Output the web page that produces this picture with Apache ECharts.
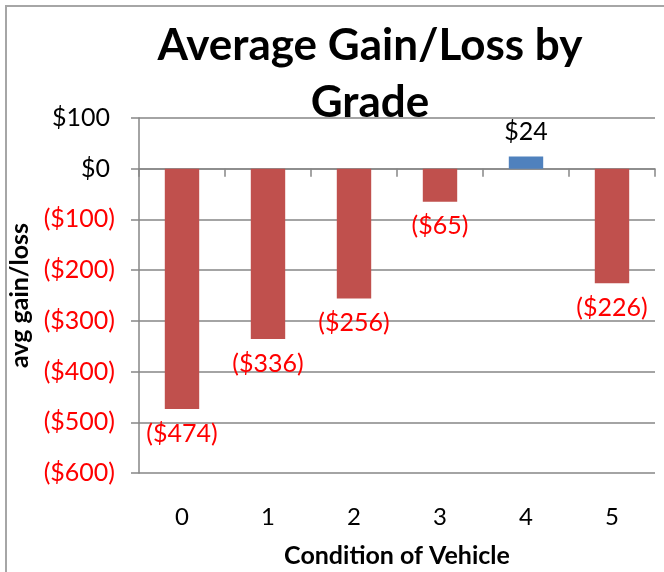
<!DOCTYPE html>
<html>
<head>
<meta charset="utf-8">
<script src="https://cdn.jsdelivr.net/npm/echarts@6/dist/echarts.min.js"></script>
<style>
  html, body { margin: 0; padding: 0; background: #fff; }
  #chart { width: 664px; height: 572px; }
</style>
</head>
<body>
<div id="chart"></div>
<script>
  // data
  var grades = ['0', '1', '2', '3', '4', '5'];
  var avgGainLoss = [-474, -336, -256, -65, 24, -226];
  var yTicks = { min: -600, max: 100, step: 100 };

  var RED_BAR = '#C0504D';
  var BLUE_BAR = '#4F81BD';
  var FONT = 'Lato';

  function money(v) {
    return v < 0 ? '($' + Math.abs(v) + ')' : '$' + v;
  }

  var barData = avgGainLoss.map(function (v) {
    var neg = v < 0;
    return {
      value: v,
      itemStyle: { color: neg ? RED_BAR : BLUE_BAR },
      label: {
        position: neg ? 'bottom' : 'top',
        color: neg ? '#FF0000' : '#000000'
      }
    };
  });

  var chart = echarts.init(document.getElementById('chart'));

  var option = {
    backgroundColor: '#ffffff',
    animation: false,
    textStyle: { fontFamily: FONT },
    graphic: [
      {
        type: 'rect',
        shape: { x: 6, y: 6, width: 720, height: 620 },
        style: { fill: 'none', stroke: '#a6a6a6', lineWidth: 2 },
        silent: true
      },
      {
        type: 'text',
        x: 370,
        y: 17,
        style: {
          text: 'Average Gain/Loss by\nGrade',
          font: 'bold 44px Lato',
          lineHeight: 57,
          textAlign: 'center',
          fill: '#000'
        }
      }
    ],
    grid: { left: 139, right: 9, top: 118, bottom: 99, outerBoundsMode: 'none' },
    xAxis: [
      {
        type: 'category',
        data: grades,
        position: 'bottom',
        axisLine: { show: false, onZero: false },
        axisTick: { show: false },
        axisLabel: { margin: 32, fontSize: 24, color: '#000', fontFamily: FONT },
        name: 'Condition of Vehicle',
        nameLocation: 'middle',
        nameGap: 70,
        nameTextStyle: { fontSize: 25, fontWeight: 'bold', color: '#000', fontFamily: FONT }
      },
      {
        type: 'category',
        data: grades,
        position: 'bottom',
        axisLine: { show: true, onZero: true, lineStyle: { color: '#868686', width: 1.5 } },
        axisTick: { show: true, length: 8, lineStyle: { color: '#868686', width: 1.5 } },
        axisLabel: { show: false }
      }
    ],
    yAxis: {
      type: 'value',
      min: yTicks.min,
      max: yTicks.max,
      interval: yTicks.step,
      axisLine: { show: true, lineStyle: { color: '#868686', width: 1.5 } },
      axisTick: { show: true, length: 8, lineStyle: { color: '#868686', width: 1.5 } },
      splitLine: { show: true, lineStyle: { color: '#868686', width: 1.5 } },
      axisLabel: {
        margin: 24,
        fontSize: 25,
        fontFamily: FONT,
        formatter: function (v) {
          return v < 0 ? '{neg|' + money(v) + '}' : '{pos|' + money(v) + '}';
        },
        rich: {
          neg: { color: '#FF0000', fontSize: 25, fontFamily: FONT },
          pos: { color: '#000000', fontSize: 25, fontFamily: FONT, padding: [0, 5, 0, 0] }
        }
      },
      name: 'avg gain/loss',
      nameLocation: 'middle',
      nameGap: 84,
      nameTextStyle: { fontSize: 25, fontWeight: 'bold', color: '#000', fontFamily: FONT }
    },
    series: [
      {
        type: 'bar',
        xAxisIndex: 0,
        barWidth: '40%',
        data: barData,
        label: {
          show: true,
          distance: 12,
          fontSize: 25,
          fontFamily: FONT,
          formatter: function (p) { return money(p.value); }
        }
      }
    ]
  };

  chart.setOption(option);
</script>
</body>
</html>
